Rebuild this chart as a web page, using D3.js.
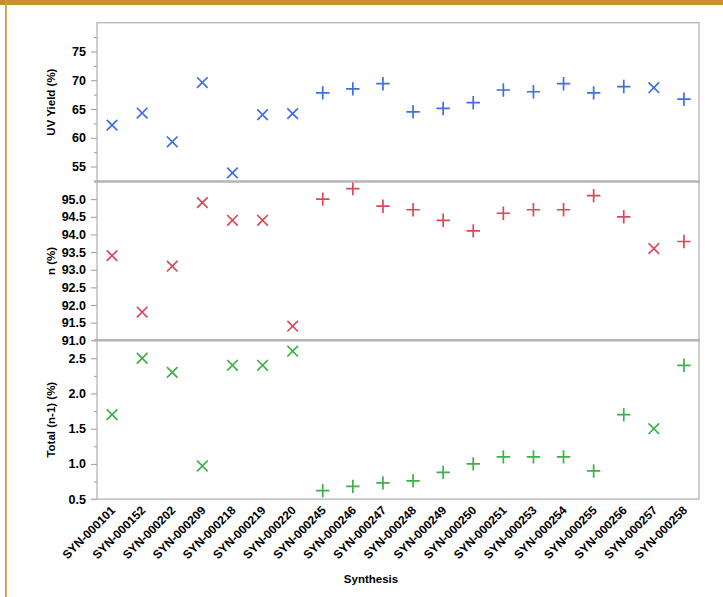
<!DOCTYPE html>
<html>
<head>
<meta charset="utf-8">
<script src="https://cdn.jsdelivr.net/npm/d3@7"></script>
<style>
  body { margin: 0; background: #fff; }
  svg text { font-family: "Liberation Sans", Arial, Helvetica, sans-serif; font-weight: bold; }
</style>
</head>
<body>
<svg id="chart" width="723" height="597"></svg>
<script>
// synthesis batches, in plotting order
var synthesis = ["SYN-000101", "SYN-000152", "SYN-000202", "SYN-000209", "SYN-000218",
                 "SYN-000219", "SYN-000220", "SYN-000245", "SYN-000246", "SYN-000247",
                 "SYN-000248", "SYN-000249", "SYN-000250", "SYN-000251", "SYN-000253",
                 "SYN-000254", "SYN-000255", "SYN-000256", "SYN-000257", "SYN-000258"];

// marker group per batch (x or +)
var markerGroup = ["x", "x", "x", "x", "x", "x", "x", "+", "+", "+",
                   "+", "+", "+", "+", "+", "+", "+", "+", "x", "+"];

var uvYield = [62.2, 64.3, 59.3, 69.6, 53.9, 64.0, 64.2, 67.8, 68.5, 69.4,
               64.5, 65.1, 66.1, 68.3, 68.0, 69.4, 67.8, 68.9, 68.7, 66.7];

var nPct = [93.4, 91.8, 93.1, 94.9, 94.4, 94.4, 91.4, 95.0, 95.3, 94.8,
            94.7, 94.4, 94.1, 94.6, 94.7, 94.7, 95.1, 94.5, 93.6, 93.8];

var totalN1 = [1.7, 2.5, 2.3, 0.97, 2.4, 2.4, 2.6, 0.62, 0.68, 0.73,
               0.76, 0.88, 1.0, 1.1, 1.1, 1.1, 0.9, 1.7, 1.5, 2.4];

var uvTicks = [55, 60, 65, 70, 75];
var nTicks = [91.0, 91.5, 92.0, 92.5, 93.0, 93.5, 94.0, 94.5, 95.0];
var totalTicks = [0.5, 1.0, 1.5, 2.0, 2.5];

var LEFT = 97, RIGHT = 699, TOP = 22.7, PANEL_H = 158.8;
var GRID = "#b4b4b4";

var svg = d3.select("#chart");

// orange frame
svg.append("rect").attr("x", 0).attr("y", 0).attr("width", 723).attr("height", 5).attr("fill", "#c98e2f");
svg.append("rect").attr("x", 5).attr("y", 0).attr("width", 1.8).attr("height", 597).attr("fill", "#d49a3e");

var x = d3.scalePoint()
    .domain(synthesis)
    .range([LEFT, RIGHT])
    .padding(0.5);

var panels = [
  { title: "UV Yield (%)", values: uvYield, color: "#3d6fe0", domain: [52.4, 80],
    ticks: uvTicks, fmt: d3.format("d"), minor: [52.5, 57.5, 62.5, 67.5, 72.5, 77.5] },
  { title: "n (%)", values: nPct, color: "#d9485a", domain: [91, 95.5],
    ticks: nTicks, fmt: d3.format(".1f"), minor: [] },
  { title: "Total (n-1) (%)", values: totalN1, color: "#3cb049", domain: [0.5, 2.755],
    ticks: totalTicks, fmt: d3.format(".1f"), minor: [0.75, 1.25, 1.75, 2.25] }
];

function markerPath(type, cx, cy) {
  if (type == "x") {
    var r = 5.3;
    return "M" + (cx - r) + "," + (cy - r) + "L" + (cx + r) + "," + (cy + r) +
           "M" + (cx - r) + "," + (cy + r) + "L" + (cx + r) + "," + (cy - r);
  }
  var p = 6.7;
  return "M" + (cx - p) + "," + cy + "L" + (cx + p) + "," + cy +
         "M" + cx + "," + (cy - p) + "L" + cx + "," + (cy + p);
}

function drawPanel(panel, i) {
  var top = TOP + i * PANEL_H;
  var y = d3.scaleLinear()
      .domain(panel.domain)
      .range([top + PANEL_H, top]);

  var g = svg.append("g").attr("class", "panel-" + i);

  // minor ticks
  g.append("g")
    .attr("transform", "translate(" + LEFT + ",0)")
    .call(d3.axisLeft(y).tickValues(panel.minor).tickSize(3).tickFormat(""))
    .call(function(a) { a.select(".domain").remove(); })
    .selectAll("line").attr("stroke", "#999");

  // major ticks
  var ax = g.append("g")
    .attr("transform", "translate(" + LEFT + ",0)")
    .call(d3.axisLeft(y).tickValues(panel.ticks).tickSize(6).tickPadding(5).tickFormat(panel.fmt));
  ax.select(".domain").remove();
  ax.selectAll("line").attr("stroke", "#999");
  ax.selectAll("text")
    .style("font-size", "12.5px")
    .attr("fill", "#000");

  // axis title
  g.append("text")
    .attr("transform", "translate(55," + (top + PANEL_H / 2) + ") rotate(-90)")
    .style("text-anchor", "middle")
    .style("font-size", "11.5px")
    .text(panel.title);

  // markers
  g.selectAll("path.mark")
    .data(panel.values)
    .enter()
    .append("path")
    .attr("class", "mark")
    .attr("d", function(d, j) { return markerPath(markerGroup[j], x(synthesis[j]), y(d)); })
    .attr("fill", "none")
    .attr("stroke", panel.color)
    .attr("stroke-width", 1.7);
}

panels.forEach(drawPanel);

var bottom = TOP + 3 * PANEL_H;

// frame
svg.append("rect")
  .attr("x", LEFT).attr("y", TOP)
  .attr("width", RIGHT - LEFT).attr("height", bottom - TOP)
  .attr("fill", "none")
  .attr("stroke", GRID)
  .attr("stroke-width", 1.3);

// separators between panels
[1, 2].forEach(function(k) {
  svg.append("line")
    .attr("x1", LEFT - 3).attr("x2", RIGHT + 1)
    .attr("y1", TOP + k * PANEL_H).attr("y2", TOP + k * PANEL_H)
    .attr("stroke", GRID)
    .attr("stroke-width", 2.5);
});
svg.append("line")
  .attr("x1", LEFT - 5).attr("x2", LEFT)
  .attr("y1", bottom).attr("y2", bottom)
  .attr("stroke", GRID).attr("stroke-width", 1.3);

// x tick labels
svg.append("g")
  .attr("class", "x-labels")
  .selectAll("text")
  .data(synthesis)
  .enter()
  .append("text")
  .attr("transform", function(d) { return "translate(" + (x(d) + 4) + "," + (bottom + 12) + ") rotate(-45)"; })
  .style("text-anchor", "end")
  .style("font-size", "12px")
  .text(function(d) { return d; });

svg.append("text")
  .attr("x", 371)
  .attr("y", 583)
  .style("text-anchor", "middle")
  .style("font-size", "11.5px")
  .text("Synthesis");
</script>
</body>
</html>
